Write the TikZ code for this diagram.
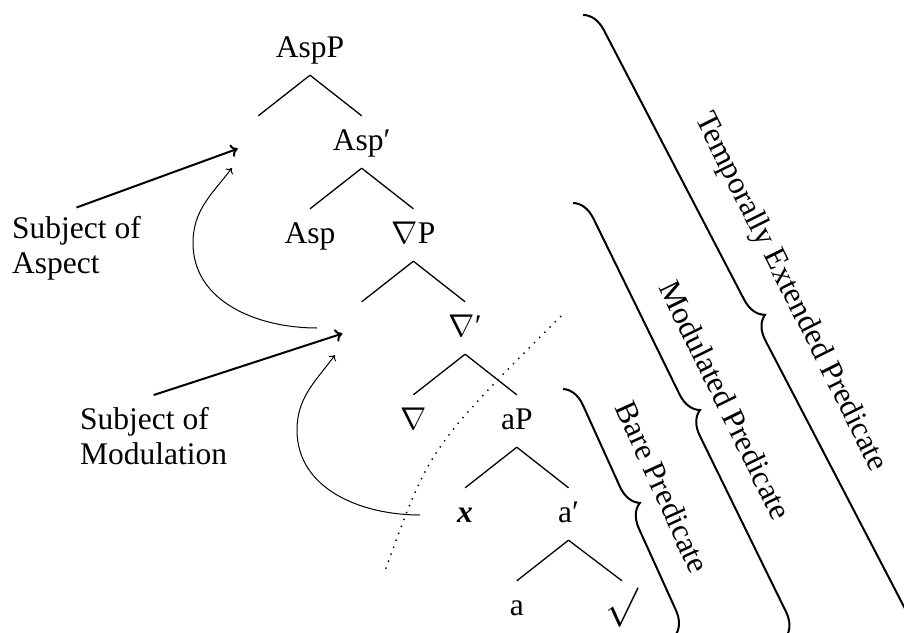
\RequirePackage{fix-cm}
\documentclass[tikz,border=0pt]{standalone}
\usepackage{graphicx}
\usepackage{fontspec}
\setmainfont{Liberation Serif}
\usetikzlibrary{decorations.pathreplacing,arrows.meta}
\begin{document}
\begin{tikzpicture}[x=1pt,y=-1pt,
  txt/.style={font=\fontsize{31.5}{35}\selectfont, inner sep=0pt},
  tn/.style={txt, anchor=base, text height=32pt, text depth=16pt, inner sep=2pt},
  tline/.style={line width=1.3pt},
  bigarrow/.style={line width=2pt, -{To[length=7pt,width=13pt]}},
  movearrow/.style={line width=1pt, -{To[length=5pt,width=9pt]}},
  bracestyle/.style={line width=2pt, decorate, decoration={brace, amplitude=23pt}},
  bracelabel/.style={txt, text height=21pt, text depth=0pt},
  dotline/.style={line width=2pt, line cap=round, dash pattern=on 0pt off 7.4pt},
]
\useasboundingbox (0,0) rectangle (904,632);
% tree
\node[tn] (AspP) at (310,57) {AspP};
\node[tn] (spec1) at (258.3,150) {};
\node[tn] (Aspbar) at (361.7,150) {Asp′};
\node[tn] (Asp) at (310,243) {Asp};
\node[tn] (NP) at (413.4,243) {$\nabla$P};
\node[tn] (spec2) at (361.7,336) {};
\node[tn] (Nbar) at (465.1,336) {$\nabla$′};
\node[tn] (N) at (413.4,429) {$\nabla$};
\node[tn] (aP) at (516.8,429) {aP};
\node[tn] (x) at (465.1,522) {\textbf{\textit{x}}};
\node[tn] (abar) at (568.5,522) {a′};
\node[tn] (a) at (516.8,615) {a};
\node[tn] (root) at (622,615) {\raisebox{-2pt}{\scalebox{1.25}{$\surd$}}};
\foreach \p/\c in {AspP/spec1, AspP/Aspbar, Aspbar/Asp, Aspbar/NP, NP/spec2, NP/Nbar, Nbar/N, Nbar/aP, aP/x, aP/abar, abar/a, abar/root}
  \draw[tline] (\p.south) -- (\c.north);
% side labels
\node[txt, align=left, anchor=north west] (subjA) at (12,216.5) {Subject of\\Aspect};
\node[txt, align=left, anchor=north west] (subjM) at (80,407) {Subject of\\Modulation};
\draw[bigarrow, shorten >=19.5pt] ([yshift=9pt]subjA.north) -- (spec1.west);
\draw[bigarrow, shorten >=18pt] ([yshift=12pt]subjM.north) -- (spec2.west);
% movement arrows
\coordinate (c1s) at (317,328);
\coordinate (c1m) at (193,243);
\coordinate (c1e) at (232,168);
\draw[movearrow] (c1s) .. controls (258,328) and (193,302) .. (c1m)
  .. controls (193,210) and (212,194) .. (c1e);
\coordinate (c2s) at (420,515);
\coordinate (c2m) at (297,430);
\coordinate (c2e) at (335,355);
\draw[movearrow] (c2s) .. controls (361,515) and (297,489) .. (c2m)
  .. controls (297,397) and (316,381) .. (c2e);
% dotted boundary
\coordinate (d1) at (386,568);
\coordinate (d2) at (563,314);
\draw[dotline] (d1) .. controls (430,447) .. (d2);
% braces
\draw[bracestyle] (563,389) -- (674.9,635.8);
\draw[bracestyle] (573,203) -- (785.7,637.3);
\draw[bracestyle] (583,15) -- (906.2,635.9);
\node[bracelabel, rotate=-65.6] (lb) at (662.5,487.3) {Bare Predicate};
\node[bracelabel, rotate=-63.9] (lm) at (725.1,399.9) {Modulated Predicate};
\node[bracelabel, rotate=-63.5] (lt) at (793,291) {Temporally Extended Predicate};
\end{tikzpicture}
\end{document}
